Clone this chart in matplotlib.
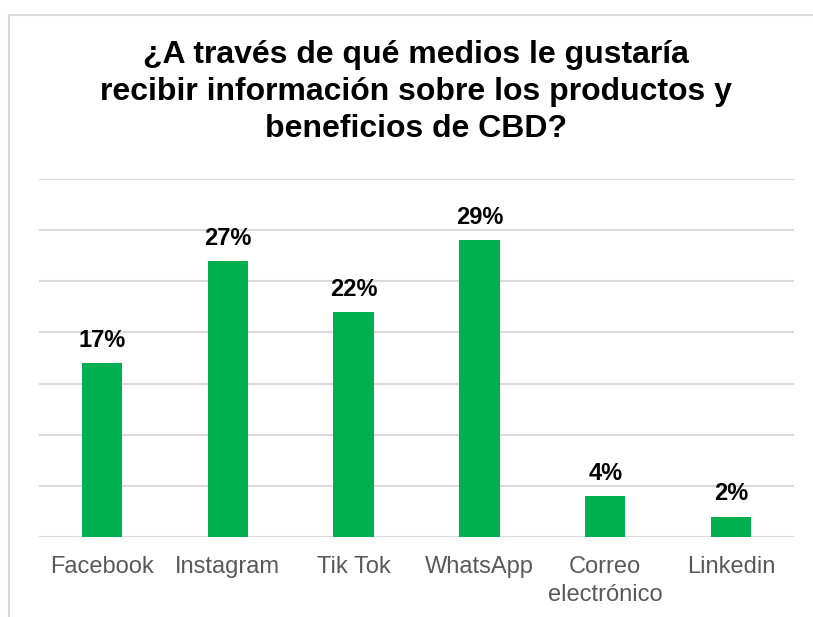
import matplotlib
matplotlib.use("Agg")
import matplotlib.pyplot as plt
from matplotlib.lines import Line2D

plt.rcParams['font.family'] = ['Liberation Sans', 'DejaVu Sans']

categories = ["Facebook", "Instagram", "Tik Tok", "WhatsApp", "Correo\nelectrónico", "Linkedin"]
values = [17, 27, 22, 29, 4, 2]
value_labels = ["17%", "27%", "22%", "29%", "4%", "2%"]
title = "¿A través de qué medios le gustaría\nrecibir información sobre los productos y\nbeneficios de CBD?"

W, H = 813, 617
fig = plt.figure(figsize=(W / 100, H / 100), dpi=100)

# chart area frame (top and left edges)
fig.add_artist(Line2D([9 / W, 812 / W], [1 - 15 / H, 1 - 15 / H], color="#d9d9d9", lw=1.5))
fig.add_artist(Line2D([9 / W, 9 / W], [0, 1 - 15 / H], color="#d9d9d9", lw=1.5))

left, right, top, bottom = 39, 794, 179, 537
ax = fig.add_axes([left / W, 1 - bottom / H, (right - left) / W, (bottom - top) / H])

x = range(len(categories))
bars = ax.bar(x, values, width=0.32, color="#00b050", zorder=3)
ax.set_xlim(-0.5, len(categories) - 0.5)
ax.set_ylim(0, 35)
ax.set_yticks(range(0, 36, 5))
ax.yaxis.grid(True, color="#d9d9d9", lw=1.5, zorder=0)
ax.tick_params(axis="y", left=False, labelleft=False)
ax.tick_params(axis="x", length=0, pad=13.5, labelsize=17, labelcolor="#595959")
ax.set_xticks(list(x))
ax.set_xticklabels(categories, linespacing=1.34)
for s in ax.spines.values():
    s.set_visible(False)

for b, v, lab in zip(bars, values, value_labels):
    ax.annotate(lab, (b.get_x() + b.get_width() / 2, v), xytext=(0, 8),
                textcoords="offset points", ha="center", va="bottom",
                fontsize=17, fontweight="bold", color="#000000")

fig.text(416 / W, 1 - 92 / H, title, ha="center", va="center", fontsize=23,
         fontweight="bold", color="#000000", linespacing=1.29)

fig.savefig("out.png", dpi=100, facecolor="white")
